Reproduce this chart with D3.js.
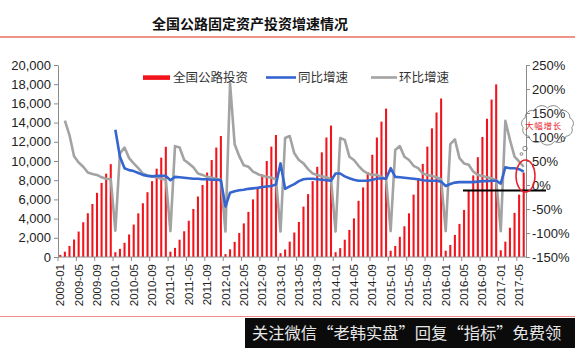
<!DOCTYPE html>
<html>
<head>
<meta charset="utf-8">
<script src="https://cdn.jsdelivr.net/npm/d3@7"></script>
<style>
  html, body { margin: 0; padding: 0; background: #fff; overflow: hidden; }
  svg { display: block; }
</style>
</head>
<body>
<svg id="chart" width="575" height="348"></svg>
<script>
// Monthly categories, 2009-01 through 2017-06
const months = d3.range(102).map(i => `${2009 + Math.floor(i / 12)}-${String(i % 12 + 1).padStart(2, "0")}`);
const labelMonths = months.filter((d, i) => i % 4 === 0);

// 全国公路投资 (cumulative within each year, 亿元)
const investment = [
  220, 550, 1150, 1820, 2650, 3620, 4560, 5520, 6680, 7720, 8680, 9670,
  500, 850, 1480, 2350, 3380, 4550, 5600, 6750, 7900, 9200, 10350, 11480,
  550, 950, 1800, 2680, 3780, 5000, 6300, 7500, 8800, 10100, 11400, 12600,
  300, 800, 1580, 2500, 3500, 4700, 6000, 7300, 8600, 10000, 11500, 12710,
  400, 780, 1600, 2550, 3650, 5250, 6550, 7900, 9400, 10900, 12450, 13690,
  500, 920, 1800, 2820, 4020, 5850, 7250, 8850, 10650, 12450, 14100, 15460,
  650, 1150, 2100, 3200, 4550, 6500, 8200, 9700, 11500, 13400, 15050, 16510,
  650, 1250, 2300, 3450, 4900, 6950, 8500, 10400, 12500, 14400, 16400, 17980,
  700, 1600, 3050, 4600, 6500, 8800
];

// 同比增速 (%)
const yoy = [
  null, null, null, null, null, null, null, null, null, null, null, null,
  115, 59, 35, 31, 29, 25, 21, 19, 18, 19, 19, 19,
  10, 17, 16, 15, 14, 13, 13, 12, 12, 11, 11, 10,
  -45, -16, -13, -11, -10, -8, -7, -6, -4, -3, -2, 1,
  45, -8, -3, 2, 8, 12, 13, 13, 12, 11, 10, 9,
  24, 24, 18, 14, 11, 9, 9, 9, 11, 13, 14, 13,
  35, 17, 16, 15, 14, 13, 12, 10, 9, 9, 9, 7,
  -2, 2, 5, 6, 6, 6, 6, 7, 8, 8, 9, 9,
  3, 37, 35, 35, 33, 28
];

// 环比增速 (%)
const mom = [
  null, 134, 104, 60, 47, 38, 26, 23, 21, 16, 13, 12,
  -95, 66, 78, 56, 45, 35, 24, 20, 18, 16, 13, 11,
  -96, 81, 78, 52, 45, 37, 24, 21, 17, 15, 13, 11,
  -97, 212, 85, 60, 41, 38, 28, 23, 19, 17, 15, 12,
  -97, 98, 102, 66, 52, 45, 33, 24, 21, 18, 16, 12,
  -97, 98, 94, 59, 52, 40, 30, 24, 21, 21, 17, 12,
  -96, 73, 81, 59, 52, 40, 35, 24, 21, 19, 16, 12,
  -96, 85, 95, 56, 45, 42, 28, 21, 19, 16, 14, 10,
  -96, 134, 94, 59, 49, 38
];

const leftTicks = d3.range(0, 20001, 2000);
const rightTicks = d3.range(-150, 251, 50);

const svg = d3.select("#chart");
const latin = "'Liberation Sans', Arial, sans-serif";
const cjk = "'Noto Sans CJK SC', sans-serif";

const x = d3.scaleBand().domain(months).range([58, 526]).paddingInner(0.55).paddingOuter(0.275);
const yL = d3.scaleLinear().domain([0, 20000]).range([257, 65]);
const yR = d3.scaleLinear().domain([-150, 250]).range([257, 65]);
const cx = d => x(d) + x.bandwidth() / 2;

// Title and rules
svg.append("text").attr("x", 250).attr("y", 29).attr("text-anchor", "middle")
  .attr("font-family", cjk).attr("font-weight", "bold").attr("font-size", 14).attr("fill", "#111")
  .text("全国公路固定资产投资增速情况");
svg.append("line").attr("x1", 0).attr("x2", 575).attr("y1", 37).attr("y2", 37)
  .attr("stroke", "#e8705f").attr("stroke-width", 1.6);
svg.append("line").attr("x1", 0).attr("x2", 575).attr("y1", 316.5).attr("y2", 316.5)
  .attr("stroke", "#f08a8a").attr("stroke-width", 1);

// Bars
svg.append("g").selectAll("rect").data(months).join("rect")
  .attr("x", d => x(d)).attr("width", x.bandwidth())
  .attr("y", (d, i) => yL(investment[i]))
  .attr("height", (d, i) => yL(0) - yL(investment[i]))
  .attr("fill", "#f2141c");

// Lines
const seriesLine = d3.line().defined(d => d[1] != null).x(d => cx(d[0])).y(d => yR(d[1]));
svg.append("path").datum(months.map((m, i) => [m, mom[i]]))
  .attr("d", seriesLine).attr("fill", "none").attr("stroke", "#a3a3a3")
  .attr("stroke-width", 2.6).attr("stroke-linejoin", "round");
svg.append("path").datum(months.map((m, i) => [m, yoy[i]]))
  .attr("d", seriesLine).attr("fill", "none").attr("stroke", "#3565cf")
  .attr("stroke-width", 2.6).attr("stroke-linejoin", "round");

// Axes
const axisStyle = g => {
  g.select(".domain").attr("stroke", "#8c8c8c");
  g.selectAll(".tick line").attr("stroke", "#8c8c8c");
  g.selectAll("text").attr("font-family", latin).attr("font-size", 13).attr("fill", "#222");
};
svg.append("g").attr("transform", "translate(58,0)")
  .call(d3.axisLeft(yL).tickValues(leftTicks).tickSize(4).tickPadding(3).tickFormat(d3.format(",")).tickSizeOuter(0))
  .call(axisStyle);
svg.append("g").attr("transform", "translate(526,0)")
  .call(d3.axisRight(yR).tickValues(rightTicks).tickSize(4).tickPadding(2).tickFormat(d => d + "%").tickSizeOuter(0))
  .call(axisStyle);

// Category axis with ticks on category boundaries
const gx = svg.append("g");
gx.append("line").attr("x1", 58).attr("x2", 526).attr("y1", 257).attr("y2", 257).attr("stroke", "#8c8c8c");
const half = x.step() * x.paddingInner() / 2;
gx.selectAll("line.tk").data(labelMonths).join("line").attr("class", "tk")
  .attr("x1", d => x(d) - half).attr("x2", d => x(d) - half)
  .attr("y1", 257).attr("y2", 261).attr("stroke", "#8c8c8c");
gx.selectAll("text").data(labelMonths).join("text")
  .attr("transform", d => `translate(${cx(d)},264) rotate(-90)`)
  .attr("dy", "0.35em").attr("text-anchor", "end")
  .attr("font-family", latin).attr("font-size", 11.5).attr("fill", "#222")
  .text(d => d);

// Legend
const lg = svg.append("g").attr("font-family", cjk).attr("font-size", 12.5).attr("fill", "#333");
lg.append("rect").attr("x", 143).attr("y", 75.3).attr("width", 27).attr("height", 4.6).attr("fill", "#f2141c");
lg.append("text").attr("x", 173).attr("y", 82).text("全国公路投资");
lg.append("line").attr("x1", 266).attr("x2", 296).attr("y1", 77.5).attr("y2", 77.5).attr("stroke", "#3565cf").attr("stroke-width", 2.6);
lg.append("text").attr("x", 298).attr("y", 82).text("同比增速");
lg.append("line").attr("x1", 371).attr("x2", 397).attr("y1", 77.5).attr("y2", 77.5).attr("stroke", "#a3a3a3").attr("stroke-width", 2.6);
lg.append("text").attr("x", 399).attr("y", 82).text("环比增速");

// Callout: baseline, ring, thought cloud
const note = svg.append("g");
note.append("line").attr("x1", 463).attr("x2", 546).attr("y1", 190.5).attr("y2", 190.5)
  .attr("stroke", "#000").attr("stroke-width", 2);
note.append("ellipse").attr("cx", 525.5).attr("cy", 176).attr("rx", 9.5).attr("ry", 16)
  .attr("fill", "none").attr("stroke", "#e8202a").attr("stroke-width", 1.5);

function cloudPath(ccx, ccy, rx, ry, n) {
  const pts = d3.range(n).map(k => {
    const a = -Math.PI / 2 + 2 * Math.PI * k / n;
    return [ccx + rx * Math.cos(a), ccy + ry * Math.sin(a)];
  });
  let p = `M${pts[0][0]},${pts[0][1]}`;
  pts.forEach((pt, k) => {
    const nx = pts[(k + 1) % n];
    const r = Math.hypot(nx[0] - pt[0], nx[1] - pt[1]) * 0.6;
    p += `A${r},${r} 0 0 1 ${nx[0]},${nx[1]}`;
  });
  return p + "Z";
}
note.append("path").attr("d", cloudPath(547.5, 125, 24.5, 17, 11))
  .attr("fill", "none").attr("stroke", "#6d6d6d").attr("stroke-width", 0.8);
note.append("circle").attr("cx", 525).attr("cy", 148.5).attr("r", 2.2).attr("fill", "none").attr("stroke", "#6d6d6d").attr("stroke-width", 0.8);
note.append("circle").attr("cx", 521.5).attr("cy", 154).attr("r", 1.4).attr("fill", "none").attr("stroke", "#6d6d6d").attr("stroke-width", 0.8);
note.append("text").attr("x", 543.5).attr("y", 128.5).attr("text-anchor", "middle")
  .attr("font-family", cjk).attr("font-size", 8.5).attr("letter-spacing", 0.8).attr("fill", "#e8202a")
  .text("大幅增长");

// Footer banner
svg.append("rect").attr("x", 245).attr("y", 318).attr("width", 330).attr("height", 30).attr("fill", "#0b0b0b");
svg.append("text").attr("x", 252).attr("y", 339).attr("font-family", cjk).attr("font-size", 16.3).attr("fill", "#e6e6e6")
  .text("关注微信“老韩实盘”回复“指标”免费领");
</script>
</body>
</html>
